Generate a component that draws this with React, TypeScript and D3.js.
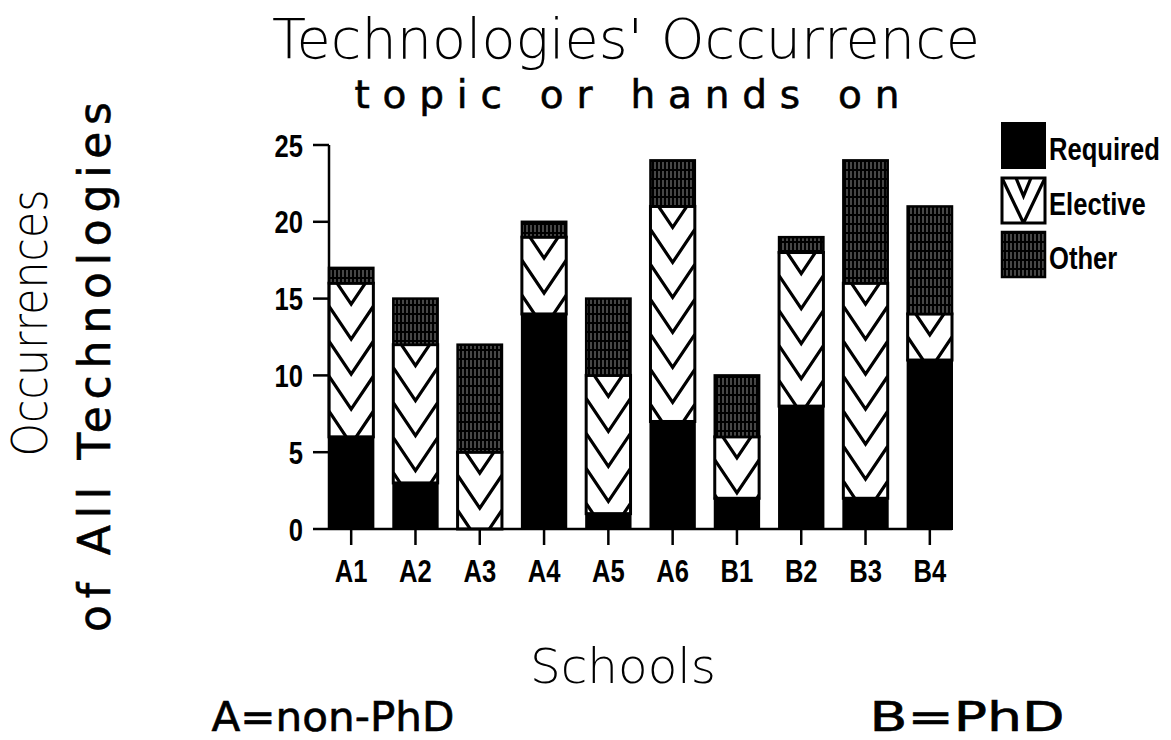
import React, { useEffect } from 'react';
import * as d3 from 'd3';

// values
const schools = ['A1', 'A2', 'A3', 'A4', 'A5', 'A6', 'B1', 'B2', 'B3', 'B4'];
const required = [6, 3, 0, 14, 1, 7, 2, 8, 2, 11];
const elective = [10, 9, 5, 5, 9, 14, 4, 10, 14, 3];
const other = [1, 3, 7, 1, 5, 3, 4, 1, 8, 7];
const seriesNames = ['Required', 'Elective', 'Other'];
const yTicks = [0, 5, 10, 15, 20, 25];

const W = 1171;
const H = 740;
const cond = "'Liberation Sans', Arial, sans-serif";
const thin = "'DejaVu Sans', 'Liberation Sans', sans-serif";
const round = "'DejaVu Sans', 'Liberation Sans', sans-serif";
const SX = 0.8; // horizontal squeeze for the condensed labels

// chevron lines ("V" stacked) clipped into a rect
function chevrons(x0: number, x1: number, top: number, bottom: number) {
  const out: string[] = [];
  const xc = (x0 + x1) / 2;
  for (let y = top - 12; y < bottom; y += 35) {
    out.push(`M${x0},${y}L${xc},${y + 33}L${x1},${y}`);
  }
  return out.join('');
}

function Cond({ x, y, anchor, children }: { x: number; y: number; anchor: string; children: any }) {
  return (
    <text transform={`translate(${x},${y}) scale(${SX},1)`} textAnchor={anchor} fontFamily={cond}
      fontWeight="bold" fontSize={32}>{children}</text>
  );
}

export default function App() {
  useEffect(() => {
    document.body.style.margin = '0';
  }, []);

  const table = schools.map((s, i) => ({
    school: s,
    Required: required[i],
    Elective: elective[i],
    Other: other[i],
  }));

  const x = d3.scaleBand().domain(schools).range([329, 952]).paddingInner(0.31).paddingOuter(0);
  const y = d3.scaleLinear().domain([0, 25]).range([529, 145]);
  const stack = d3.stack<any>().keys(seriesNames)(table);
  const bw = x.bandwidth();

  const legendY = [123, 178, 232];

  return (
    <svg width={W} height={H} style={{ display: 'block', background: '#fff' }}>
      <defs>
        <pattern id="otherPat" width={4} height={9} patternUnits="userSpaceOnUse">
          <rect width={4} height={9} fill="#000" />
          <rect x={2.5} y={0} width={1} height={7} fill="#fff" opacity={0.55} />
        </pattern>
        {stack[1].map((d, i) => (
          <clipPath id={`clipE${i}`} key={i}>
            <rect x={x(schools[i])} y={y(d[1])} width={bw} height={y(d[0]) - y(d[1])} />
          </clipPath>
        ))}
        <clipPath id="clipLeg">
          <rect x={1002} y={legendY[1]} width={43} height={45} />
        </clipPath>
      </defs>

      {/* title */}
      <text x={626} y={58} textAnchor="middle" fontFamily={thin} fontWeight={200} fontSize={56}
        textLength={708} lengthAdjust="spacingAndGlyphs">Technologies' Occurrence</text>
      <text x={627} y={108} textAnchor="middle" fontFamily={round} fontSize={39} stroke="#000" strokeWidth={0.6}
        textLength={545} lengthAdjust="spacing">topic or hands on</text>

      {/* y axis titles */}
      <text transform="translate(47,323) rotate(-90)" textAnchor="middle" fontFamily={thin}
        fontWeight={200} fontSize={50} textLength={267} lengthAdjust="spacingAndGlyphs">Occurrences</text>
      <text transform="translate(110,367) rotate(-90)" textAnchor="middle" fontFamily={round}
        fontSize={44} stroke="#000" strokeWidth={0.6} textLength={530} lengthAdjust="spacing">of All Technologies</text>

      {/* bars */}
      {stack.map((layer, li) =>
        layer.map((d, i) => {
          const x0 = x(schools[i]) as number;
          const top = y(d[1]);
          const bot = y(d[0]);
          if (d[1] - d[0] <= 0) return null;
          const key = `${li}-${i}`;
          if (li === 0) {
            return <rect key={key} x={x0} y={top} width={bw} height={bot - top} fill="#000" stroke="#000" strokeWidth={2} />;
          }
          if (li === 2) {
            return <rect key={key} x={x0} y={top} width={bw} height={bot - top} fill="url(#otherPat)" stroke="#000" strokeWidth={2.5} />;
          }
          return (
            <g key={key}>
              <rect x={x0} y={top} width={bw} height={bot - top} fill="#fff" />
              <path d={chevrons(x0, x0 + bw, top, bot)} clipPath={`url(#clipE${i})`} fill="none"
                stroke="#000" strokeWidth={3.2} strokeLinejoin="miter" />
              <rect x={x0} y={top} width={bw} height={bot - top} fill="none" stroke="#000" strokeWidth={3} />
            </g>
          );
        })
      )}

      {/* axes */}
      <line x1={329} x2={329} y1={y(25)} y2={y(0)} stroke="#000" strokeWidth={2.5} />
      <line x1={329} x2={952} y1={y(0)} y2={y(0)} stroke="#000" strokeWidth={2.5} />
      {yTicks.map(t => (
        <g key={t}>
          <line x1={313} x2={329} y1={y(t)} y2={y(t)} stroke="#000" strokeWidth={2.5} />
          <Cond x={303} y={y(t) + 11.5} anchor="end">{t}</Cond>
        </g>
      ))}
      {schools.map(s => {
        const cx = (x(s) as number) + bw / 2;
        return (
          <g key={s}>
            <line x1={cx} x2={cx} y1={y(0)} y2={y(0) + 16} stroke="#000" strokeWidth={2.5} />
            <Cond x={cx} y={582} anchor="middle">{s}</Cond>
          </g>
        );
      })}

      {/* legend */}
      <rect x={1002} y={legendY[0]} width={43} height={45} fill="#000" stroke="#000" strokeWidth={2} />
      <rect x={1002} y={legendY[1]} width={43} height={45} fill="#fff" />
      <path clipPath="url(#clipLeg)" fill="none" stroke="#000" strokeWidth={3.2}
        d={`M1002,${legendY[1]}L1023.5,${legendY[1] + 45}L1045,${legendY[1]}M1016,${legendY[1]}L1023.5,${legendY[1] + 18}L1031,${legendY[1]}`} />
      <rect x={1002} y={legendY[1]} width={43} height={45} fill="none" stroke="#000" strokeWidth={3} />
      <rect x={1002} y={legendY[2]} width={43} height={45} fill="url(#otherPat)" stroke="#000" strokeWidth={2.5} />
      {seriesNames.map((n, i) => (
        <Cond key={n} x={1049} y={legendY[i] + 37} anchor="start">{n}</Cond>
      ))}

      {/* x title and notes */}
      <text x={623} y={683} textAnchor="middle" fontFamily={thin} fontWeight={200} fontSize={48}
        textLength={186} lengthAdjust="spacingAndGlyphs">Schools</text>
      <text x={333} y={731} textAnchor="middle" fontFamily={round} fontSize={40} stroke="#000" strokeWidth={0.6}
        textLength={243} lengthAdjust="spacingAndGlyphs">A=non-PhD</text>
      <text x={967} y={731} textAnchor="middle" fontFamily={round} fontSize={40} stroke="#000" strokeWidth={0.6}
        textLength={195} lengthAdjust="spacingAndGlyphs">B=PhD</text>
    </svg>
  );
}
